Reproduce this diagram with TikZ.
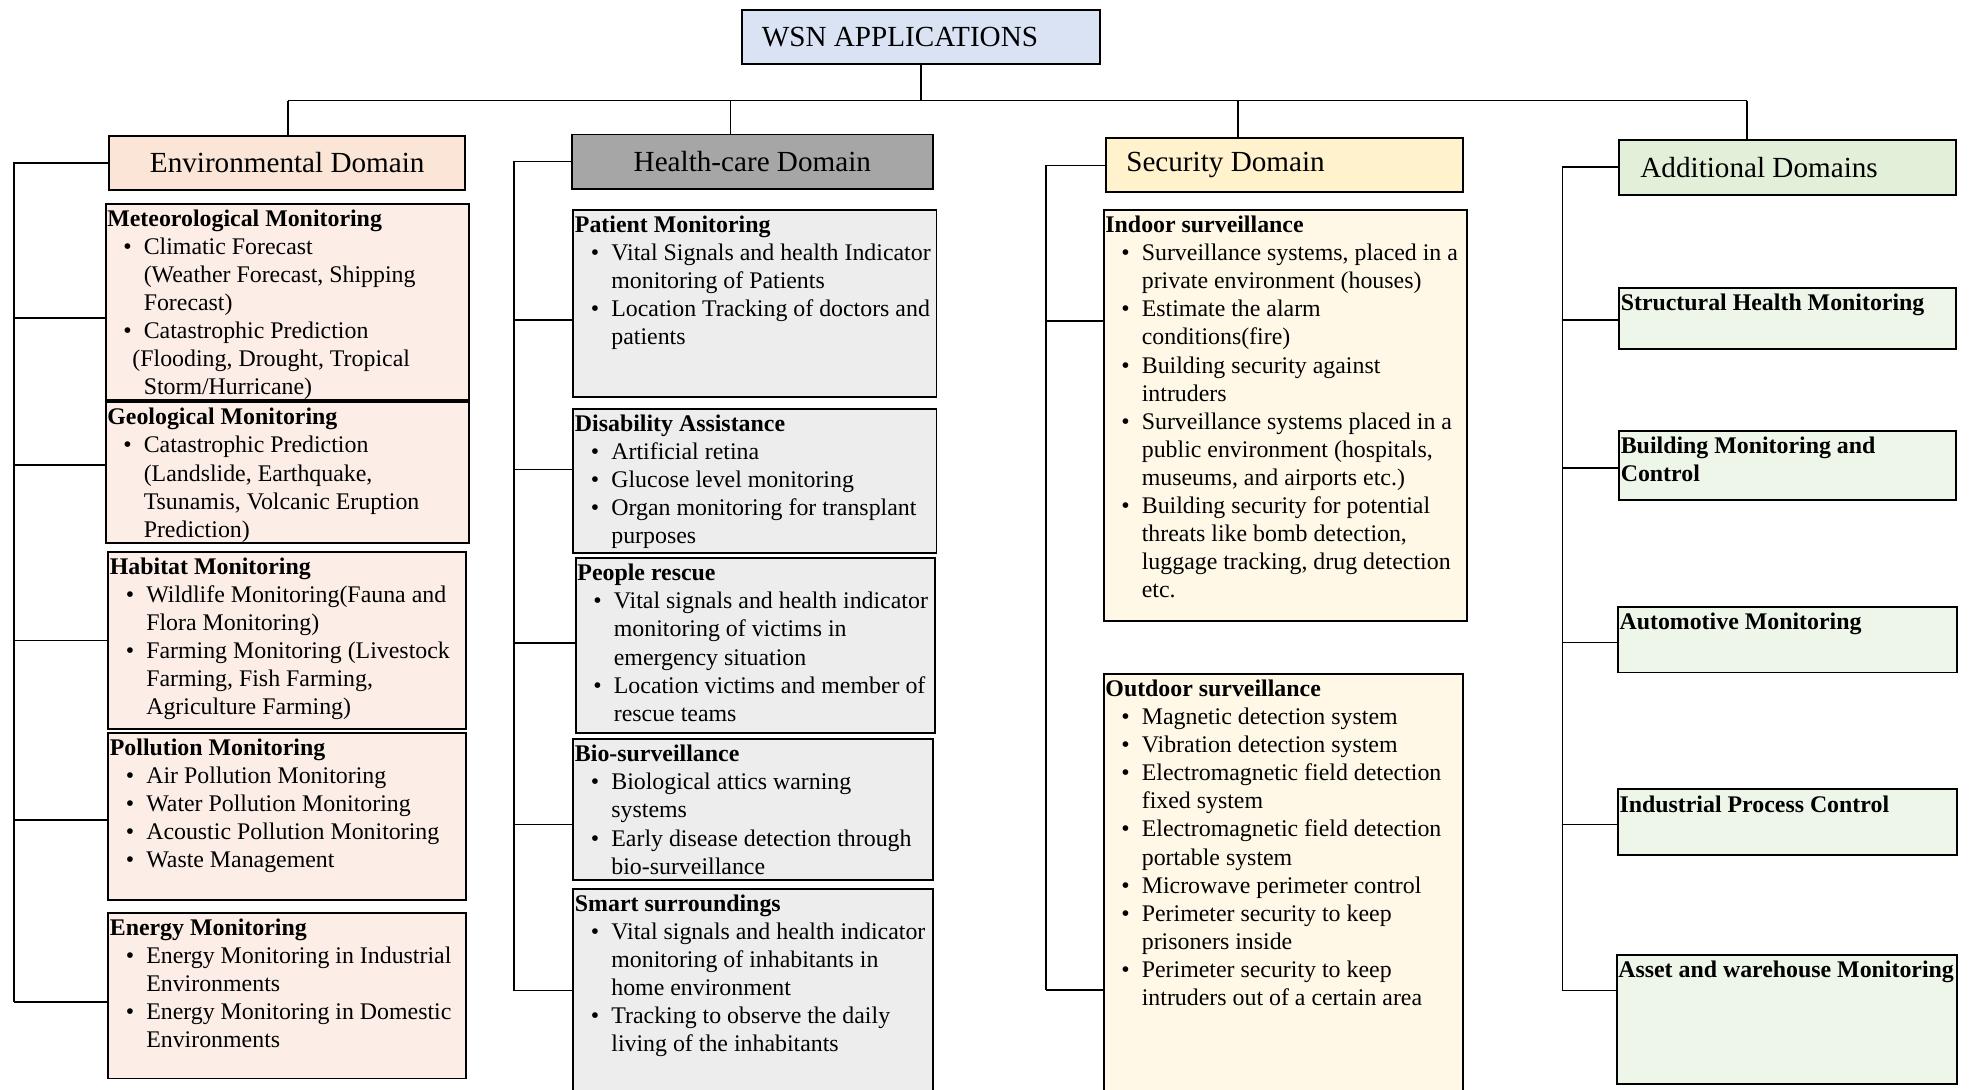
\documentclass[tikz,border=0pt]{standalone}
\usepackage{fontspec}
\setmainfont{Liberation Serif}
\newlength\pxu
\setlength\pxu{0.025cm}
\definecolor{titleblue}{HTML}{DAE3F3}
\definecolor{envhead}{HTML}{FBE5D6}
\definecolor{envbody}{HTML}{FCEEE6}
\definecolor{hchead}{HTML}{A6A6A6}
\definecolor{hcbody}{HTML}{EDEDED}
\definecolor{sechead}{HTML}{FFF2CC}
\definecolor{secbody}{HTML}{FFF8E6}
\definecolor{addhead}{HTML}{E2F0D9}
\definecolor{addbody}{HTML}{EEF6EA}
\newcommand\bodyfont{\fontsize{13.5}{15.9}\selectfont}
\newcommand\headfont{\fontsize{16.5}{19.5}\selectfont}
\newcommand\bitem{\hspace*{9pt}\makebox[11.6pt][l]{\textbullet}}
\newcommand\bcont{\hspace*{20.6pt}}
\newcommand\infobox[3]{\parbox[c][#2\pxu][t]{#1\pxu}{\bodyfont\begin{tabular}[t]{@{\hspace{1pt}}l@{}}\rule{0pt}{12.8pt}#3\end{tabular}}}
\newcommand\headbox[3]{\parbox[c][#2\pxu][c]{#1\pxu}{\headfont #3}}
\tikzset{
  hbox/.style={draw, line width=1.1pt, inner sep=0pt, outer sep=0pt, anchor=north west},
  conn/.style={line width=0.9pt},
}
\begin{document}
\begin{tikzpicture}[x=0.025cm, y=-0.025cm]
  \useasboundingbox (0,0) rectangle (1568,867);
  % top and domain headers
  \node[hbox, fill=titleblue] (wsn) at (590,8) {\headbox{285}{43}{\hspace*{16\pxu}WSN APPLICATIONS}};
  \node[hbox, fill=envhead] (env) at (87,108) {\headbox{283}{43}{\centering Environmental Domain}};
  \node[hbox, fill=hchead] (hc) at (455,107) {\headbox{287}{43}{\centering Health-care Domain}};
  \node[hbox, fill=sechead] (sec) at (880,110) {\headbox{284}{43}{\hspace*{16\pxu}Security Domain}};
  \node[hbox, fill=addhead] (add) at (1288,111) {\headbox{268}{44}{\hspace*{17\pxu}Additional Domains}};

  % environmental domain
  \node[hbox, fill=envbody] (met) at (84,162) {\infobox{289}{156}{\textbf{Meteorological Monitoring}\\
    \bitem Climatic Forecast\\
    \bcont (Weather Forecast, Shipping\\
    \bcont Forecast)\\
    \bitem Catastrophic Prediction\\
    \hspace*{14.2pt}(Flooding, Drought, Tropical\\
    \bcont Storm/Hurricane)}};
  \node[hbox, fill=envbody] (geo) at (84,320) {\infobox{289}{112}{\textbf{Geological Monitoring}\\
    \bitem Catastrophic Prediction\\
    \bcont (Landslide, Earthquake,\\
    \bcont Tsunamis, Volcanic Eruption\\
    \bcont Prediction)}};
  \node[hbox, fill=envbody] (hab) at (86,439) {\infobox{285}{141}{\textbf{Habitat Monitoring}\\
    \bitem Wildlife Monitoring(Fauna and\\
    \bcont Flora Monitoring)\\
    \bitem Farming Monitoring (Livestock\\
    \bcont Farming, Fish Farming,\\
    \bcont Agriculture Farming)}};
  \node[hbox, fill=envbody] (pol) at (86,583) {\infobox{285}{133}{\textbf{Pollution Monitoring}\\
    \bitem Air Pollution Monitoring\\
    \bitem Water Pollution Monitoring\\
    \bitem Acoustic Pollution Monitoring\\
    \bitem Waste Management}};
  \node[hbox, fill=envbody] (ene) at (86,726) {\infobox{285}{132}{\textbf{Energy Monitoring}\\
    \bitem Energy Monitoring in Industrial\\
    \bcont Environments\\
    \bitem Energy Monitoring in Domestic\\
    \bcont Environments}};

  % health-care domain
  \node[hbox, fill=hcbody] (pat) at (456,167) {\infobox{289}{149}{\textbf{Patient Monitoring}\\
    \bitem Vital Signals and health Indicator\\
    \bcont monitoring of Patients\\
    \bitem Location Tracking of doctors and\\
    \bcont patients}};
  \node[hbox, fill=hcbody] (dis) at (456,325) {\infobox{289}{115}{\textbf{Disability Assistance}\\
    \bitem Artificial retina\\
    \bitem Glucose level monitoring\\
    \bitem Organ monitoring for transplant\\
    \bcont purposes}};
  \node[hbox, fill=hcbody] (peo) at (458,444) {\infobox{286}{139}{\textbf{People rescue}\\
    \bitem Vital signals and health indicator\\
    \bcont monitoring of victims in\\
    \bcont emergency situation\\
    \bitem Location victims and member of\\
    \bcont rescue teams}};
  \node[hbox, fill=hcbody] (bio) at (456,588) {\infobox{286}{112}{\textbf{Bio-surveillance}\\
    \bitem Biological attics warning\\
    \bcont systems\\
    \bitem Early disease detection through\\
    \bcont bio-surveillance}};
  \node[hbox, fill=hcbody] (sma) at (456,707) {\infobox{286}{168}{\textbf{Smart surroundings}\\
    \bitem Vital signals and health indicator\\
    \bcont monitoring of inhabitants in\\
    \bcont home environment\\
    \bitem Tracking to observe the daily\\
    \bcont living of the inhabitants}};

  % security domain
  \node[hbox, fill=secbody] (ind) at (878,167) {\infobox{289}{327}{\textbf{Indoor surveillance}\\
    \bitem Surveillance systems, placed in a\\
    \bcont private environment (houses)\\
    \bitem Estimate the alarm\\
    \bcont conditions(fire)\\
    \bitem Building security against\\
    \bcont intruders\\
    \bitem Surveillance systems placed in a\\
    \bcont public environment (hospitals,\\
    \bcont museums, and airports etc.)\\
    \bitem Building security for potential\\
    \bcont threats like bomb detection,\\
    \bcont luggage tracking, drug detection\\
    \bcont etc.}};
  \node[hbox, fill=secbody] (out) at (878,536) {\infobox{286}{339}{\textbf{Outdoor surveillance}\\
    \bitem Magnetic detection system\\
    \bitem Vibration detection system\\
    \bitem Electromagnetic field detection\\
    \bcont fixed system\\
    \bitem Electromagnetic field detection\\
    \bcont portable system\\
    \bitem Microwave perimeter control\\
    \bitem Perimeter security to keep\\
    \bcont prisoners inside\\
    \bitem Perimeter security to keep\\
    \bcont intruders out of a certain area}};

  % additional domains
  \node[hbox, fill=addbody] (shm) at (1288,229) {\infobox{268}{49}{\textbf{Structural Health Monitoring}}};
  \node[hbox, fill=addbody] (bmc) at (1288,343) {\infobox{268}{55}{\textbf{Building Monitoring and}\\\textbf{Control}}};
  \node[hbox, fill=addbody] (aut) at (1287,483) {\infobox{270}{52}{\textbf{Automotive Monitoring}}};
  \node[hbox, fill=addbody] (ipc) at (1287,628) {\infobox{270}{52}{\textbf{Industrial Process Control}}};
  \node[hbox, fill=addbody] (awm) at (1286,760) {\infobox{271}{102}{\textbf{Asset and warehouse Monitoring}}};

  % tree connectors
  \draw[conn] (wsn.south) -- ++(0,29) coordinate (bus);
  \coordinate (d1) at (229,80);
  \coordinate (d2) at (581,80);
  \coordinate (d3) at (985,80);
  \coordinate (d4) at (1390,80);
  \draw[conn] (d1) -- (d4);
  \foreach \d/\n in {d1/env, d2/hc, d3/sec, d4/add}
    \draw[conn] (\d) -- (\d |- \n.north);

  \coordinate (es) at (11,0);
  \coordinate (hs) at (409,0);
  \coordinate (ss) at (832,0);
  \coordinate (as) at (1243,0);
  \foreach \n/\dy/\sp in {met/-13/es, geo/6/es, hab/0/es, pol/-3/es, ene/-5/es,
      pat/-13/hs, dis/9/hs, peo/2/hs, bio/-12/hs, sma/3/hs,
      ind/75/ss, out/-82/ss,
      shm/-1/as, bmc/-2/as, aut/-2/as, ipc/-2/as, awm/23/as}{
    \coordinate (b-\n) at ([yshift=\dy\pxu]\n.west);
    \draw[conn] (b-\n) -- (b-\n -| \sp);
  }
  \draw[conn] (env.west) -- (env.west -| es) -- (es |- b-ene);
  \draw[conn] (hc.west) -- (hc.west -| hs) -- (hs |- b-sma);
  \draw[conn] (sec.west) -- (sec.west -| ss) -- (ss |- b-out);
  \draw[conn] (add.west) -- (add.west -| as) -- (as |- b-awm);
\end{tikzpicture}
\end{document}
